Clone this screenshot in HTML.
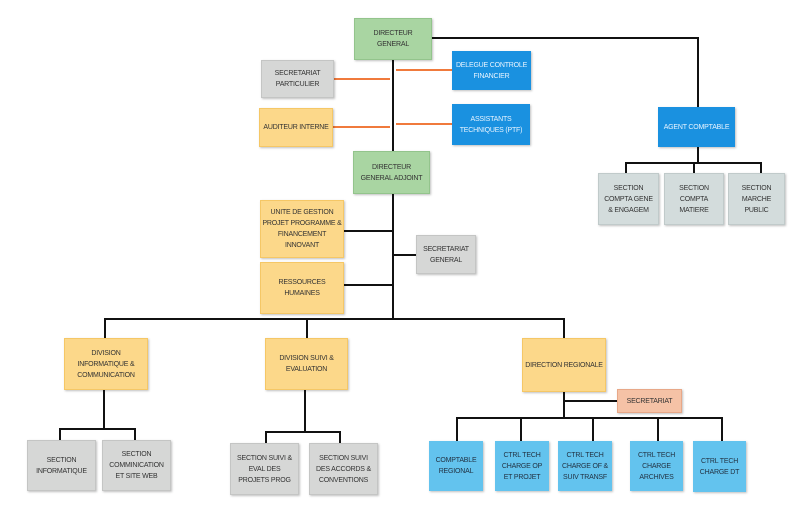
<!DOCTYPE html>
<html><head><meta charset="utf-8"><style>
body{margin:0;width:799px;height:506px;background:#fff;position:relative;overflow:hidden;font-family:"Liberation Sans",sans-serif}
.b{position:absolute;display:flex;align-items:center;justify-content:center;text-align:center;font-size:7px;line-height:11px;color:#333;box-sizing:border-box;padding:1px;letter-spacing:-0.2px;box-shadow:1px 1px 2px rgba(0,0,0,.25)}
.g{background:#a9d5a2;border:1px solid #93c48c}
.gr{background:#d6d7d6;border:1px solid #c4c5c4}
.o{background:#fcd88a;border:1px solid #f5c766}
.bl{background:#1a91e0;color:#e8f4ff}
.lb{background:#63c3ee;color:#234}
.gb{background:#d3dcdc;border:1px solid #c0caca}
.p{background:#f5c2a6;border:1px solid #e8a888}
svg{position:absolute;left:0;top:0}
</style></head><body>
<svg width="799" height="506">
<g stroke="#111" stroke-width="2" fill="none">
<path d="M393 60V319"/>
<path d="M432 38H698V107"/>
<path d="M344 231H393M344 285H393M393 255H416"/>
<path d="M105 338V319H564V338M307 319V338"/>
<path d="M104 390V429M60 440V429H135V440"/>
<path d="M305 390V432M266 443V432H340V443"/>
<path d="M698 147V163M626 173V163H761V173M694 163V173"/>
<path d="M564 392V418M564 401H617M457 441V418H722V441M521 418V441M593 418V441M658 418V441"/>
</g>
<g stroke="#f07a3c" stroke-width="2">
<path d="M334 79H390M396 70H452M333 127H390M396 124H452"/>
</g>
</svg>
<div class="b g" style="left:354px;top:18px;width:78px;height:42px">DIRECTEUR<br>GENERAL</div>
<div class="b gr" style="left:261px;top:60px;width:73px;height:38px">SECRETARIAT<br>PARTICULIER</div>
<div class="b bl" style="left:452px;top:51px;width:79px;height:39px">DELEGUE CONTROLE<br>FINANCIER</div>
<div class="b o" style="left:259px;top:108px;width:74px;height:39px">AUDITEUR INTERNE</div>
<div class="b bl" style="left:452px;top:104px;width:78px;height:41px">ASSISTANTS<br>TECHNIQUES (PTF)</div>
<div class="b g" style="left:353px;top:151px;width:77px;height:43px">DIRECTEUR<br>GENERAL ADJOINT</div>
<div class="b o" style="left:260px;top:200px;width:84px;height:58px">UNITE DE GESTION<br>PROJET PROGRAMME &amp;<br>FINANCEMENT<br>INNOVANT</div>
<div class="b o" style="left:260px;top:262px;width:84px;height:52px">RESSOURCES<br>HUMAINES</div>
<div class="b gr" style="left:416px;top:235px;width:60px;height:39px">SECRETARIAT<br>GENERAL</div>
<div class="b bl" style="left:658px;top:107px;width:77px;height:40px">AGENT COMPTABLE</div>
<div class="b gb" style="left:598px;top:173px;width:61px;height:52px">SECTION<br>COMPTA GENE<br>&amp; ENGAGEM</div>
<div class="b gb" style="left:664px;top:173px;width:60px;height:52px">SECTION<br>COMPTA<br>MATIERE</div>
<div class="b gb" style="left:728px;top:173px;width:57px;height:52px">SECTION<br>MARCHE<br>PUBLIC</div>
<div class="b o" style="left:64px;top:338px;width:84px;height:52px">DIVISION<br>INFORMATIQUE &amp;<br>COMMUNICATION</div>
<div class="b o" style="left:265px;top:338px;width:83px;height:52px">DIVISION SUIVI &amp;<br>EVALUATION</div>
<div class="b o" style="left:522px;top:338px;width:84px;height:54px">DIRECTION REGIONALE</div>
<div class="b p" style="left:617px;top:389px;width:65px;height:24px">SECRETARIAT</div>
<div class="b gr" style="left:27px;top:440px;width:69px;height:51px">SECTION<br>INFORMATIQUE</div>
<div class="b gr" style="left:102px;top:440px;width:69px;height:51px">SECTION<br>COMMINICATION<br>ET SITE WEB</div>
<div class="b gr" style="left:230px;top:443px;width:69px;height:52px">SECTION SUIVI &amp;<br>EVAL DES<br>PROJETS PROG</div>
<div class="b gr" style="left:309px;top:443px;width:69px;height:52px">SECTION SUIVI<br>DES ACCORDS &amp;<br>CONVENTIONS</div>
<div class="b lb" style="left:429px;top:441px;width:54px;height:50px">COMPTABLE<br>REGIONAL</div>
<div class="b lb" style="left:495px;top:441px;width:54px;height:50px">CTRL TECH<br>CHARGE OP<br>ET PROJET</div>
<div class="b lb" style="left:558px;top:441px;width:54px;height:50px">CTRL TECH<br>CHARGE OF &amp;<br>SUIV TRANSF</div>
<div class="b lb" style="left:630px;top:441px;width:53px;height:50px">CTRL TECH<br>CHARGE<br>ARCHIVES</div>
<div class="b lb" style="left:693px;top:441px;width:53px;height:51px">CTRL TECH<br>CHARGE DT</div>
</body></html>
